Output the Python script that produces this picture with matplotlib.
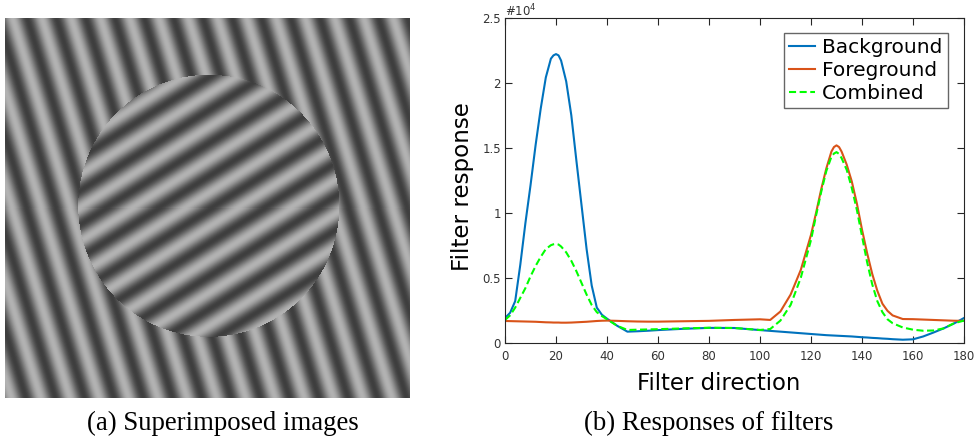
import numpy as np
import matplotlib
matplotlib.use("Agg")
import matplotlib.pyplot as plt

# ---------------- data (filter responses, in units of 1e4) ----------------
angles = [0, 2, 4, 6, 8, 10, 12, 14, 16, 18, 19,
          20, 21, 22, 24, 26, 28, 30, 32, 34, 36, 38,
          40, 44, 48, 52, 56, 60, 70, 80, 90, 100,
          104, 108, 112, 116, 120, 122, 124, 126, 128, 129, 130,
          131, 132, 134, 136, 138, 140, 142, 144, 146, 148, 150,
          152, 156, 160, 164, 168, 172, 176, 180]

background = [0.19, 0.23, 0.32, 0.60, 0.92, 1.21, 1.52, 1.80, 2.04, 2.185, 2.21,
              2.22, 2.21, 2.17, 2.01, 1.75, 1.40, 1.06, 0.72, 0.44, 0.27, 0.215,
              0.185, 0.13, 0.085, 0.088, 0.092, 0.097, 0.107, 0.114, 0.113, 0.097,
              0.091, 0.085, 0.079, 0.073, 0.067, 0.064, 0.061, 0.058, 0.056, 0.055, 0.054,
              0.053, 0.052, 0.050, 0.048, 0.045, 0.042, 0.040, 0.037, 0.035, 0.032, 0.030,
              0.027, 0.023, 0.026, 0.048, 0.078, 0.11, 0.147, 0.19]

foreground = [0.167, 0.166, 0.165, 0.164, 0.163, 0.162, 0.161, 0.159, 0.157, 0.156, 0.155,
              0.155, 0.155, 0.154, 0.154, 0.155, 0.157, 0.159, 0.161, 0.164, 0.167, 0.169,
              0.170, 0.168, 0.165, 0.163, 0.162, 0.162, 0.165, 0.168, 0.175, 0.180,
              0.175, 0.24, 0.37, 0.56, 0.83, 1.00, 1.18, 1.34, 1.47, 1.505, 1.518,
              1.505, 1.47, 1.37, 1.24, 1.07, 0.87, 0.69, 0.53, 0.40, 0.30, 0.245,
              0.21, 0.182, 0.181, 0.178, 0.175, 0.172, 0.169, 0.168]

combined = [0.175, 0.21, 0.27, 0.345, 0.42, 0.51, 0.59, 0.66, 0.72, 0.75, 0.757,
            0.76, 0.755, 0.74, 0.695, 0.63, 0.55, 0.46, 0.37, 0.29, 0.235, 0.205,
            0.18, 0.13, 0.098, 0.10, 0.102, 0.104, 0.110, 0.115, 0.113, 0.098,
            0.105, 0.17, 0.29, 0.50, 0.79, 0.98, 1.16, 1.32, 1.43, 1.455, 1.466,
            1.452, 1.42, 1.33, 1.19, 1.02, 0.82, 0.62, 0.45, 0.32, 0.235, 0.18,
            0.15, 0.117, 0.10, 0.092, 0.094, 0.11, 0.149, 0.17]

series_labels = ["Background", "Foreground", "Combined"]
x_ticks = [0, 20, 40, 60, 80, 100, 120, 140, 160, 180]
y_ticks = [0, 0.5, 1, 1.5, 2, 2.5]
y_tick_labels = ["0", "0.5", "1", "1.5", "2", "2.5"]

# grating image parameters (stripe tilt and period in pixels)
bg_tilt_from_vertical_deg = 17.0
fg_tilt_from_horizontal_deg = 32.0
stripe_period = 28.0

W, H = 976, 441
fig = plt.figure(figsize=(W / 100, H / 100), dpi=100)

# ---------------- (a) superimposed gratings ----------------
ny, nx = 380, 405
yy, xx = np.mgrid[0:ny, 0:nx].astype(float)
a_bg = np.deg2rad(bg_tilt_from_vertical_deg)
a_fg = np.deg2rad(fg_tilt_from_horizontal_deg)
bg_phase = 2 * np.pi * 7 * np.cos(a_bg) / stripe_period
bg = np.cos(2 * np.pi * (xx * np.cos(a_bg) - yy * np.sin(a_bg)) / stripe_period - bg_phase)
fg = np.cos(2 * np.pi * (xx * np.sin(a_fg) + yy * np.cos(a_fg)) / stripe_period - 1.0)
inside = (xx - 203.3) ** 2 + (yy - 187.8) ** 2 <= 130.5 ** 2
img = 120 + 58 * np.where(inside, fg, bg)

axi = fig.add_axes([5 / W, 1 - 398 / H, 405 / W, 380 / H])
axi.imshow(img, cmap="gray", vmin=0, vmax=255, interpolation="nearest", aspect="auto")
axi.axis("off")

# ---------------- (b) filter responses ----------------
ax = fig.add_axes([505 / W, 1 - 342.7 / H, 459 / W, 325 / H])
ax.plot(angles, background, color="#0072BD", lw=1.5, label=series_labels[0],
        solid_joinstyle="round")
ax.plot(angles, foreground, color="#D95319", lw=1.5, label=series_labels[1],
        solid_joinstyle="round")
ax.plot(angles, combined, color="#00FF00", lw=1.5, linestyle=(0, (3.4, 1.7)),
        label=series_labels[2])

ax.set_xlim(0, 180)
ax.set_ylim(0, 2.5)
ax.set_xticks(x_ticks)
ax.set_yticks(y_ticks)
ax.set_yticklabels(y_tick_labels)
ax.tick_params(direction="in", length=5, width=0.8, top=True, right=True,
               labelsize=8.5, labelcolor="#333333", color="#262626")
ax.tick_params(axis="x", pad=5)
ax.tick_params(axis="y", pad=3)
for s in ax.spines.values():
    s.set_color("#262626")
    s.set_linewidth(0.8)

ax.text(0.0, 1.005, r"#10$^{4}$", transform=ax.transAxes, ha="left",
        va="baseline", fontsize=8.5, color="#333333")

leg = ax.legend(loc="upper right", bbox_to_anchor=(0.9645, 0.9538),
                borderaxespad=0, fontsize=14.5, handlelength=1.3,
                handletextpad=0.36, labelspacing=0.2, borderpad=0.25,
                fancybox=False, edgecolor="#666666", framealpha=1)
leg.get_frame().set_linewidth(1.0)

fig.text(719 / W, 1 - 390 / H, "Filter direction", ha="center", va="baseline",
         fontsize=16.4)
fig.text(469.3 / W, 1 - 186.7 / H, "Filter response", ha="center", va="baseline",
         rotation=90, rotation_mode="anchor", fontsize=16.6)

fig.text(222.5 / W, 1 - 430 / H, "(a) Superimposed images", ha="center",
         va="baseline", family="Liberation Serif", fontsize=19.3)
fig.text(709 / W, 1 - 430 / H, "(b) Responses of filters", ha="center",
         va="baseline", family="Liberation Serif", fontsize=19.3)

fig.savefig("out.png", dpi=100)
